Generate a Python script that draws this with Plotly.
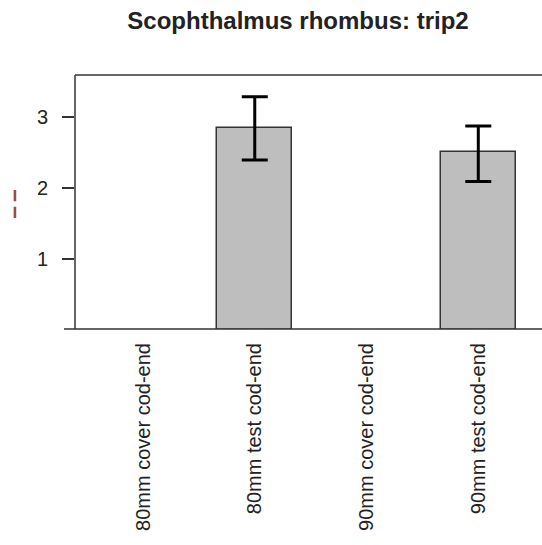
import plotly.graph_objects as go

categories = ["80mm cover cod-end", "80mm test cod-end", "90mm cover cod-end", "90mm test cod-end"]
means = [None, 2.84, None, 2.50]
err_plus = [0, 0.44, 0, 0.37]
err_minus = [0, 0.45, 0, 0.41]
y_ticks = [1, 2, 3]

W, H = 542, 545
L, R, T, B = 75, 0, 75, 216
pw = W - L - R
ph = H - T - B

font_family = "Liberation Sans, Arial, sans-serif"

fig = go.Figure()
fig.add_trace(go.Bar(
    x=categories, y=means, width=0.675,
    marker=dict(color="#bebebe", line=dict(color="#333333", width=1.5)),
    error_y=dict(type="data", array=err_plus, arrayminus=err_minus, symmetric=False,
                 color="black", thickness=3, width=13),
    showlegend=False,
))

fig.update_layout(
    width=W, height=H,
    margin=dict(l=L, r=R, t=T, b=B, pad=0),
    paper_bgcolor="white", plot_bgcolor="white",
    font=dict(family=font_family, size=20, color="#222222"),
    title=dict(text="<b>Scophthalmus rhombus: trip2</b>", x=298 / W, xanchor="center",
               xref="container", yref="container", y=1 - 21 / H, yanchor="middle",
               font=dict(size=24, color="#222222")),
    bargap=0,
)
fig.update_xaxes(
    type="category", range=[-0.6084, 3.570], showgrid=False, zeroline=False,
    showline=False, ticks="", tickangle=-90, ticklabelstandoff=9,
    tickfont=dict(size=20, color="#222222"),
)
fig.update_yaxes(
    range=[0.016, 3.586], showgrid=False, zeroline=False, showline=False,
    tickvals=y_ticks, ticktext=[str(v) for v in y_ticks],
    ticks="outside", ticklen=12, tickwidth=1.5, tickcolor="#333333",
    ticklabelstandoff=10, tickfont=dict(size=20, color="#222222"),
)

line = dict(color="#333333", width=1.5)
fig.add_shape(type="line", xref="paper", yref="paper", x0=0, x1=1, y0=1, y1=1, line=line)
fig.add_shape(type="line", xref="paper", yref="paper", x0=0, x1=0, y0=0, y1=1, line=line)
fig.add_shape(type="line", xref="paper", yref="paper", x0=(64 - L) / pw, x1=1, y0=0, y1=0, line=line)

fig.add_annotation(text="¦", xref="paper", yref="paper", x=(15 - L) / pw, y=(T + ph - 201) / ph,
                   showarrow=False, font=dict(size=30, color="#a0483c"),
                   xanchor="center", yanchor="middle")

fig.write_html("out.html")
